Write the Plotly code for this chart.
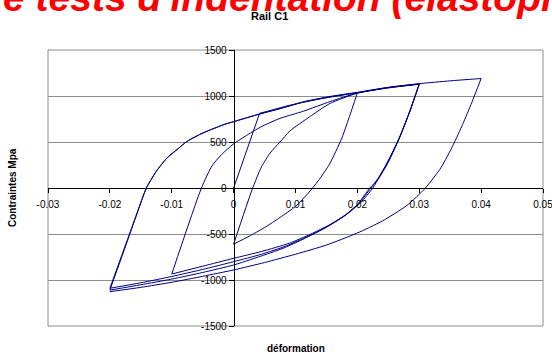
import plotly.graph_objects as go

# Strain / stress branches of the cyclic loading history (strain in -, stress in MPa)
mono_el_eps = [0.0, 0.0042]
mono_el_sig = [0, 812]
mono_pl_eps = [0.0042, 0.0059, 0.0085, 0.0113, 0.0140, 0.0167, 0.0200]
mono_pl_sig = [812, 842, 890, 932, 968, 1000, 1036]

unl_a_eps = [0.0200, 0.0175, 0.0155, 0.0137, 0.0120, 0.0100, 0.0075, 0.0050, 0.0025, 0.0]
unl_a_sig = [1036, 545, 260, 80, -60, -200, -320, -430, -525, -610]

rel_a_eps = [0.0, 0.0030, 0.0045, 0.0059, 0.0075, 0.0091, 0.0123, 0.0156, 0.0200, 0.0250, 0.0300]
rel_a_sig = [-610, -15, 230, 380, 500, 620, 775, 920, 1030, 1088, 1128]

unl_b_eps = [0.0300, 0.0285, 0.0269, 0.0250, 0.0235, 0.0225, 0.0205, 0.0185, 0.0155, 0.0125, 0.0090, 0.0045, 0.0, -0.0050, -0.0100]
unl_b_sig = [1130, 840, 560, 300, 115, 0, -160, -275, -400, -500, -600, -690, -764, -850, -935]

rel_b_eps = [-0.0100, -0.0052, -0.0035, -0.0020, 0.0, 0.0043, 0.0075, 0.0113, 0.0156, 0.0200, 0.0250, 0.0300]
rel_b_sig = [-935, 0, 240, 360, 480, 660, 757, 835, 940, 1033, 1090, 1130]

unl_c_eps = [0.0300, 0.0285, 0.0268, 0.0250, 0.0233, 0.0222, 0.0202, 0.0180, 0.0150, 0.0120, 0.0085, 0.0045, 0.0, -0.0050, -0.0100, -0.0150, -0.0200]
unl_c_sig = [1128, 835, 550, 290, 100, 0, -170, -295, -425, -525, -630, -720, -801, -885, -962, -1030, -1090]

rel_c_eps = [-0.0200, -0.0170, -0.0155, -0.0141, -0.0125, -0.0108, -0.0090, -0.0076, -0.0055, -0.0038, -0.0015, 0.0, 0.0043, 0.0075, 0.0113, 0.0156, 0.0200, 0.0250, 0.0300]
rel_c_sig = [-1090, -530, -250, 0, 180, 323, 425, 503, 580, 630, 690, 720, 805, 862, 935, 992, 1036, 1092, 1132]

unl_d_eps = [0.0300, 0.0285, 0.0268, 0.0250, 0.0233, 0.0220, 0.0200, 0.0178, 0.0145, 0.0115, 0.0080, 0.0040, 0.0, -0.0050, -0.0100, -0.0150, -0.0200]
unl_d_sig = [1132, 840, 545, 280, 90, 0, -180, -310, -445, -548, -655, -750, -837, -918, -990, -1052, -1110]

rel_d_eps = [-0.0200, -0.0170, -0.0155, -0.0141, -0.0125, -0.0108, -0.0090, -0.0076, -0.0055, -0.0038, -0.0015, 0.0, 0.0043, 0.0075, 0.0113, 0.0156, 0.0200, 0.0250, 0.0300, 0.0350, 0.0400]
rel_d_sig = [-1110, -545, -258, 0, 182, 325, 427, 505, 582, 632, 692, 722, 807, 864, 937, 995, 1040, 1095, 1134, 1165, 1190]

unl_e_eps = [0.0400, 0.0385, 0.0370, 0.0355, 0.0335, 0.0310, 0.0280, 0.0240, 0.0199, 0.0150, 0.0100, 0.0050, 0.0, -0.0050, -0.0100, -0.0150, -0.0200]
unl_e_sig = [1190, 930, 690, 470, 220, 0, -190, -360, -492, -620, -720, -810, -891, -960, -1025, -1080, -1127]

x_tickvals = [-0.03, -0.02, -0.01, 0.0, 0.01, 0.02, 0.03, 0.04, 0.05]
x_ticktext = ["-0.03", "-0.02", "-0.01", "0", "0.01", "0.02", "0.03", "0.04", "0.05"]
y_tickvals = [-1500, -1000, -500, 0, 500, 1000, 1500]
y_ticktext = ["-1500", "-1000", "-500", "0", "500", "1000", "1500"]

FONT = "Liberation Sans, Arial, sans-serif"
LINE = "#000080"

fig = go.Figure()

# elastic first loading drawn straight, all other branches smoothed
fig.add_trace(go.Scatter(x=mono_el_eps, y=mono_el_sig, mode="lines",
                         line=dict(color=LINE, width=1), hoverinfo="skip"))

branches = [
    (mono_pl_eps, mono_pl_sig),
    (unl_a_eps, unl_a_sig),
    (rel_a_eps, rel_a_sig),
    (unl_b_eps, unl_b_sig),
    (rel_b_eps, rel_b_sig),
    (unl_c_eps, unl_c_sig),
    (rel_c_eps, rel_c_sig),
    (unl_d_eps, unl_d_sig),
    (rel_d_eps, rel_d_sig),
    (unl_e_eps, unl_e_sig),
]
for eps, sig in branches:
    fig.add_trace(go.Scatter(x=eps, y=sig, mode="lines",
                             line=dict(color=LINE, width=1, shape="spline", smoothing=0.6),
                             hoverinfo="skip"))

fig.update_layout(
    width=552, height=357,
    margin=dict(l=48, r=9, t=50, b=31, autoexpand=False),
    paper_bgcolor="white", plot_bgcolor="white",
    showlegend=False,
    font=dict(family=FONT, size=10, color="black"),
    xaxis=dict(
        range=[-0.03, 0.05], tickvals=x_tickvals, ticktext=x_ticktext,
        showgrid=False, zeroline=False,
        showline=True, linecolor="black", linewidth=1,
        ticks="outside", ticklen=4, tickcolor="black",
        anchor="free", position=0.5, automargin=False,
        ticklabelstandoff=3, ticklabeloverflow="allow",
        tickfont=dict(family=FONT, size=10),
    ),
    yaxis=dict(
        range=[-1500, 1500], tickvals=y_tickvals, ticktext=y_ticktext,
        showgrid=True, gridcolor="#8c8c8c", gridwidth=1,
        zeroline=False,
        showline=True, linecolor="black", linewidth=1,
        ticks="outside", ticklen=5, tickcolor="black",
        anchor="free", position=0.375, automargin=False,
        tickfont=dict(family=FONT, size=10),
    ),
    shapes=[dict(type="rect", xref="paper", yref="paper", x0=0, x1=1, y0=0, y1=1,
                 line=dict(color="#8c8c8c", width=1), layer="below")],
    annotations=[
        dict(text="<b>e tests d'indentation (elastopl</b>", xref="paper", yref="paper",
             x=-0.095, y=1.104, xanchor="left", yanchor="bottom", showarrow=False,
             font=dict(family=FONT, size=39, color="#ff0000", style="italic")),
        dict(text="<b>Rail C1</b>", xref="paper", yref="paper",
             x=0.4465, y=1.123, xanchor="center", yanchor="middle", showarrow=False,
             font=dict(family=FONT, size=11, color="black")),
        dict(text="<b>Contraintes Mpa</b>", xref="paper", yref="paper",
             x=-0.0727, y=0.5, xanchor="center", yanchor="middle", showarrow=False,
             textangle=-90, font=dict(family=FONT, size=10, color="black")),
        dict(text="<b>déformation</b>", xref="paper", yref="paper",
             x=0.501, y=-0.0833, xanchor="center", yanchor="middle", showarrow=False,
             font=dict(family=FONT, size=10, color="black")),
    ],
)

fig.write_html("out.html")
